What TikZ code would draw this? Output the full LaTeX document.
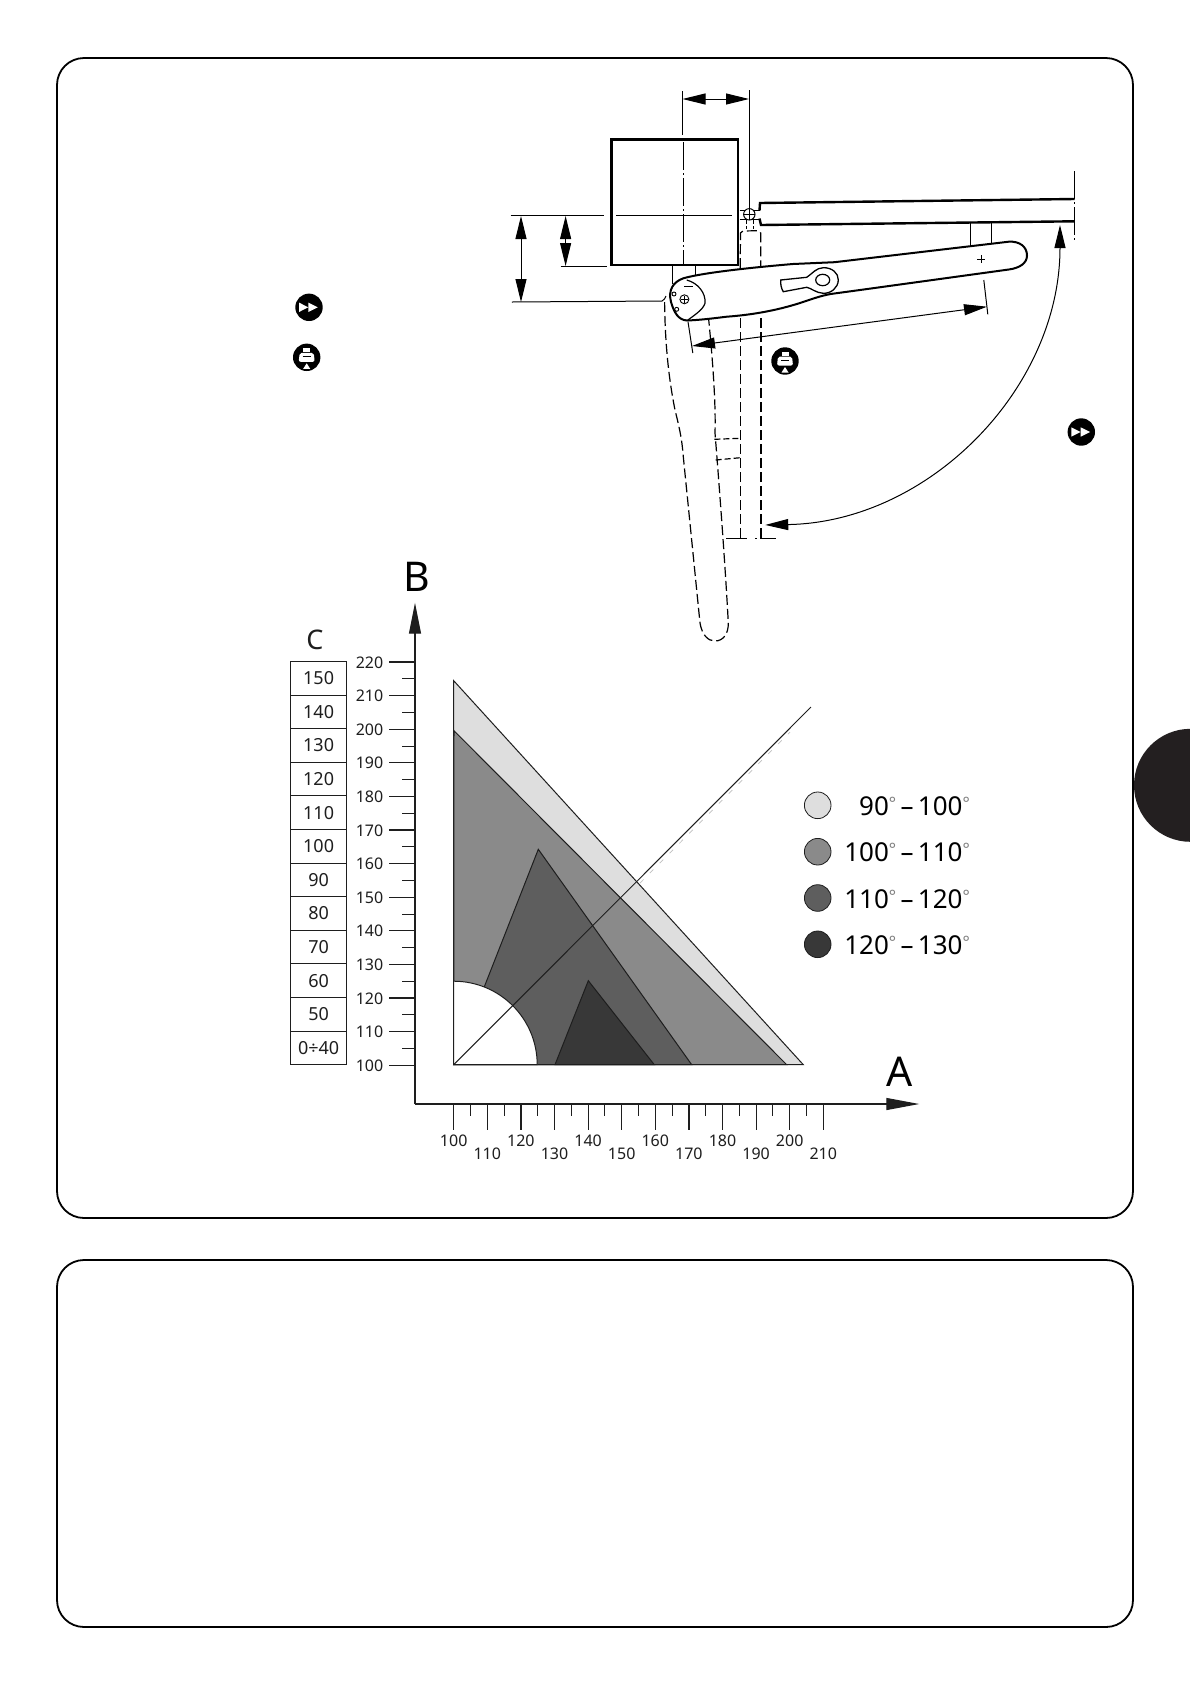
\documentclass[tikz,border=0pt]{standalone}
\usepackage{fontspec}
\setmainfont{Noto Sans}
\usetikzlibrary{arrows.meta}
\definecolor{zonea}{HTML}{DEDEDE}
\definecolor{zoneb}{HTML}{8A8A8A}
\definecolor{zonec}{HTML}{5E5E5E}
\definecolor{zoned}{HTML}{383838}
\definecolor{inkline}{HTML}{1E1E1E}
\definecolor{tabmark}{HTML}{231F20}
\tikzset{>={Triangle[length=23pt,width=11pt]}}
\tikzset{%
    frameline/.style={draw=black,line width=1.8pt,rounded corners=27pt},
    heavy/.style={line width=2.4pt},
    ghost/.style={line width=1.2pt,dash pattern=on 10pt off 4pt},
    centerline/.style={line width=1pt,dash pattern=on 28pt off 3pt on 2pt off 3pt},
    ylabel/.style={inner sep=0pt,font=\fontsize{16}{18}\selectfont,text=inkline},
    xlabel/.style={inner sep=0pt,font=\fontsize{16}{18}\selectfont,text=inkline},
    ccell/.style={draw=inkline,line width=1pt,minimum width=56pt,minimum height=33.6pt,inner sep=0pt,outer sep=0pt,font=\fontsize{18}{20}\selectfont,text=inkline},
    axisname/.style={inner sep=0pt,font=\fontsize{41}{44}\selectfont,text=black},
    legtext/.style={inner sep=0pt,anchor=base east,font=\fontsize{26}{28}\selectfont,text=black},
    legdot/.style={circle,draw=inkline,line width=0.8pt,minimum size=26.6pt,inner sep=0pt},
    fastmark/.pic={
        \fill (0,0) circle (13.7);
        \fill[white] (-10,-4.7)--(-10,4.7)--(-0.7,0)--cycle;
        \fill[white] (-0.7,-4.7)--(-0.7,4.7)--(8.8,0)--cycle;
    },
    loadmark/.pic={
        \fill (0,0) circle (13.7);
        \fill[white] (-3.5,-9.5) rectangle (3.5,-5.5);
        \fill[white,rounded corners=2pt] (-7,-4.5)--(7,-4.5)--(8,4.5)--(-8,4.5)--cycle;
        \draw[line width=0.6pt] (-4,-1)--(4,-1);
        \fill[white] (0,6)--(-3.5,11.5)--(3.5,11.5)--cycle;
    }
}
\newcommand{\dg}{\raisebox{6pt}{\color{gray}\fontsize{17}{20}\selectfont °}}
\begin{document}
\begin{tikzpicture}[x=1pt,y=-1pt]
    \useasboundingbox (0,0) rectangle (1190,1682);
    \fill[white] (0,0) rectangle (1190,1682);
    % frames and side mark
    \draw[frameline] (57,58) rectangle (1133,1218);
    \draw[frameline] (57,1260) rectangle (1133,1627);
    \fill[tabmark] (1190.5,785.3) circle (56.5);
    % gate post
    \draw[heavy] (611.6,139.3) rectangle (738.2,265);
    \draw[centerline] (683.5,142)--(683.5,264);
    \draw[line width=1pt] (616,215)--(732,215);
    \draw[line width=1pt] (682.5,91)--(682.5,135);
    \draw[line width=1pt] (749,90)--(749,208);
    \draw[<->,line width=1pt] (682.5,99)--(749,99);
    % height dimensions
    \draw[line width=1pt] (510.6,215.5)--(604,215.5);
    \draw[line width=1pt] (560.5,266)--(607,266);
    \draw[line width=1pt] (511.8,302)--(662,301) .. controls (664,300.5) and (665,298) .. (666,296);
    \draw[<->,line width=1pt] (521,216)--(521,302);
    \draw[<->,line width=1pt] (565.6,216)--(565.6,266);
    % leaf and hinge
    \draw[heavy] (1074.5,199)--(760,203)--(759.5,210.5);
    \draw[heavy] (759.5,218.5)--(761,225)--(1074.5,221.3);
    \draw[line width=1pt] (739.5,210)--(759.5,210);
    \draw[line width=1pt] (739.5,219.3)--(759.5,219.3);
    \draw[line width=1pt,fill=white] (749.3,214.3) circle (5.7);
    \draw[line width=0.8pt] (743.6,214.3)--(755,214.3);
    \draw[line width=0.8pt] (749.3,208.6)--(749.3,220);
    \draw[centerline] (1074.5,171)--(1074.5,242);
    \draw[line width=1pt] (970.3,223)--(970.3,246);
    \draw[line width=1pt] (991,222)--(991,243);
    \draw[line width=1pt] (672.6,266)--(672.6,284);
    \draw[line width=1pt] (695,266)--(695,278);
    % opened leaf, dashed
    \draw[ghost] (740.2,268)--(740.5,233)--(743,231)--(758,230.7)--(760.7,233)--(760.7,276);
    \draw[ghost,dash pattern=on 4pt off 2pt] (746.6,220)--(746.6,229);
    \draw[ghost,dash pattern=on 4pt off 2pt] (753.3,220)--(753.3,229);
    \draw[ghost] (740.4,318)--(740.4,538);
    \draw[ghost] (761,318)--(761,538);
    \draw[ghost,dash pattern=on 6pt off 3pt] (714.3,439.3)--(740.4,438.3);
    \draw[ghost,dash pattern=on 6pt off 3pt] (715.7,460)--(740.4,457.7);
    \draw[line width=1pt,dash pattern=on 21pt off 8pt on 2pt off 3pt] (726,538.3)--(775.7,538.3);
    % opened arm, dashed
    \draw[ghost] (664.6,302) .. controls (665,340) and (668,375) .. (675,410)
        .. controls (680,430) and (682,440) .. (683.3,456.7) -- (700,623)
        .. controls (702,635) and (708,641) .. (715,641)
        .. controls (723,641) and (728.5,634) .. (728.3,623)
        .. controls (725,560) and (718,470) .. (715,433)
        .. controls (716,400) and (712,350) .. (706.5,298);
    % arm
    \draw[line width=2pt,fill=white] (683.3,278.3) .. controls (700,273.5) and (740,268.5) .. (793,264)
        -- (834.5,262.2) -- (1008.8,241.7) .. controls (1020,241) and (1027,247) .. (1027,255.5)
        .. controls (1027,263) and (1020,268) .. (1008.8,269.5)
        -- (860,290) -- (830.6,294) .. controls (820,296) and (812,299) .. (800,303)
        .. controls (775,311) and (750,315) .. (726.7,316.7)
        .. controls (712,318.5) and (700,320) .. (687,320.5)
        .. controls (678,320) and (674,312) .. (671,302)
        .. controls (668,290) and (673,282) .. (683.3,278.3) -- cycle;
    \draw[line width=1.2pt] (686.7,280) .. controls (698,283) and (706,293) .. (705,303.3)
        .. controls (703,310) and (693,316) .. (688,320);
    \draw[line width=1.2pt] (684,286.7)--(693,286.7);
    \draw[line width=0.9pt] (684.4,299.3) circle (4.5);
    \draw[line width=0.8pt] (681,299.3)--(687.8,299.3);
    \draw[line width=0.8pt] (684.4,296)--(684.4,302.6);
    \draw[line width=0.9pt] (674,294) circle (2);
    \draw[line width=0.9pt] (676.7,309.3) circle (2);
    \draw[line width=1pt] (977,259)--(985,259);
    \draw[line width=1pt] (981,255)--(981,263);
    \draw[line width=1.3pt] (780.7,280)--(806.7,277.3) .. controls (813,273) and (816,268) .. (823.3,267.7)
        .. controls (832,267.5) and (838.5,273) .. (838.3,280)
        .. controls (838,288) and (831,293.5) .. (823.3,293.3)
        .. controls (816,293) and (811,288) .. (806.7,287.3)
        -- (783.3,291.7) .. controls (781,288) and (780.5,284) .. (780.7,280) -- cycle;
    \draw[line width=1.2pt] (822.7,280) ellipse (7 and 5.7);
    % arm length dimension
    \draw[line width=1pt] (983.8,280)--(987.8,314.3);
    \draw[line width=1pt] (688,321.7)--(692.8,353);
    \draw[<->,line width=1pt] (692,346)--(987,306.7);
    % swing
    \draw[<->,line width=1pt] (1060,225) arc[start angle=0,end angle=89,radius=300];
    \pic at (309,307.3) {fastmark};
    \pic at (306.7,357.3) {loadmark};
    \pic at (785,361) {loadmark};
    \pic at (1081.3,432) {fastmark};
    % zones
    \fill[zonea,draw=inkline,line width=1pt] (453.7,680.7)--(803.3,1064.7)--(453.7,1064.7)--cycle;
    \fill[zoneb,draw=inkline,line width=1pt] (454,730.7)--(786.7,1064.7)--(453.7,1064.7)--cycle;
    \fill[zonec,draw=inkline,line width=1pt] (538.3,849.3)--(691.7,1064.7)--(453.7,1064.7)--cycle;
    \fill[zoned,draw=inkline,line width=1pt] (588.3,980.7)--(654.3,1064.7)--(555,1064.7)--cycle;
    \fill[white,draw=inkline,line width=1pt] (453.7,1064.7)--(537.2,1064.7) arc[start angle=0,end angle=-90,radius=83.5]--cycle;
    \draw[line width=1pt,inkline] (453.7,1064.7)--(811,707);
    \draw[gray!50,line width=0.7pt,dash pattern=on 5pt off 9pt] (640,883)--(790,732);
    % axes
    \draw[->,line width=1.2pt,>={Triangle[length=31pt,width=12pt]},inkline] (415,1104)--(415,602.7);
    \draw[->,line width=1.2pt,>={Triangle[length=33pt,width=12pt]},inkline] (415,1104)--(919.3,1104);
    \foreach \v [count=\i from 0] in {100,110,...,220}{
        \draw[line width=1.2pt,inkline] (389,{1065.2-33.6*\i})--(415,{1065.2-33.6*\i});
        \node[ylabel,anchor=east] (ylab\v) at (383.5,{1065.5-33.6*\i}) {\v};
    }
    \foreach \i in {0,...,11}
        \draw[line width=1pt,inkline] (402.3,{1048.4-33.6*\i})--(415,{1048.4-33.6*\i});
    \foreach \v [count=\i from 0] in {100,120,...,200}{
        \draw[line width=1.2pt,inkline] ({453.7+67.2*\i},1104)--({453.7+67.2*\i},1130);
        \node[xlabel] (xlab\v) at ({453.7+67.2*\i},1140.7) {\v};
    }
    \foreach \v [count=\i from 0] in {110,130,...,210}{
        \draw[line width=1.2pt,inkline] ({487.3+67.2*\i},1104)--({487.3+67.2*\i},1130);
        \node[xlabel] (xlab\v) at ({487.3+67.2*\i},1154) {\v};
    }
    \foreach \i in {0,...,10}
        \draw[line width=1pt,inkline] ({470.5+33.6*\i},1104)--({470.5+33.6*\i},1116);
    \node[axisname] (nameb) at (416.7,577) {B};
    \node[axisname] (namea) at (899.3,1071.7) {A};
    % C table
    \node[inner sep=0pt,font=\fontsize{27}{30}\selectfont,text=inkline] (namec) at (315,640) {C};
    \foreach \v [count=\i from 0] in {150,140,130,120,110,100,90,80,70,60,50,0÷40}
        \node[ccell] (cell\i) at (318.6,{678.2+33.6*\i}) {\v};
    % legend
    \node[legdot,fill=zonea] (dota) at (817.7,805.3) {};
    \node[legdot,fill=zoneb] (dotb) at (817.7,851.7) {};
    \node[legdot,fill=zonec] (dotc) at (817.7,898) {};
    \node[legdot,fill=zoned] (dotd) at (817.7,944.3) {};
    \node[legtext] (texta) at (970,815) {90\dg\,–\,100\dg};
    \node[legtext] (textb) at (970,861.7) {100\dg\,–\,110\dg};
    \node[legtext] (textc) at (970,908.3) {110\dg\,–\,120\dg};
    \node[legtext] (textd) at (970,954) {120\dg\,–\,130\dg};
\end{tikzpicture}
\end{document}
